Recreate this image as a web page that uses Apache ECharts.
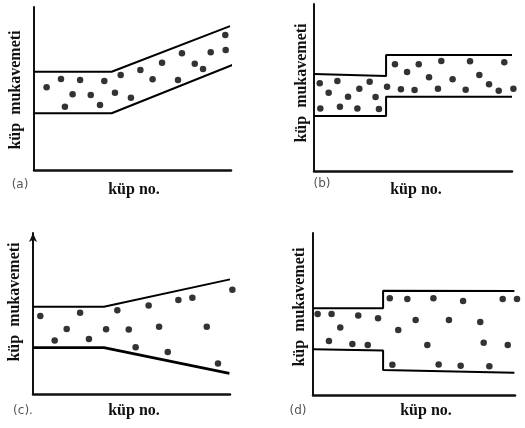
<!DOCTYPE html>
<html>
<head>
<meta charset="utf-8">
<script src="https://cdn.jsdelivr.net/npm/echarts@6/dist/echarts.min.js"></script>
<style>html,body{margin:0;padding:0;background:#fff;}#c{width:525px;height:428px;}</style>
</head>
<body>
<div id="c"></div>
<script>
// Panel labels and axis titles
var panelLabels = ['(a)', '(b)', '(c).', '(d)'];
var yTitle = 'küp  mukavemeti';
var xTitle = 'küp no.';

// (a) band: flat then rising
var aUpper = [[0, 60.3], [39.4, 60.3], [99.5, 88.3]];
var aLower = [[0, 34.8], [39.4, 34.8], [101.5, 64.8]];
var aPoints = [[6.4, 50.7], [13.7, 55.8], [15.7, 38.8], [19.6, 46.4], [23.4, 55.2], [28.8, 46.0], [33.5, 39.9], [35.7, 54.6], [41.1, 47.4], [44.0, 58.3], [49.2, 44.4], [54.0, 61.3], [60.2, 55.6], [65.0, 65.8], [73.1, 55.2], [75.1, 71.6], [81.6, 65.2], [85.8, 62.0], [89.7, 72.2], [97.1, 82.8], [97.3, 73.6]];

// (b) band: step up
var bUpper = [[0, 58.1], [36.4, 56.9], [36.4, 69.5], [100, 69.5]];
var bLower = [[0, 32.9], [36.4, 32.9], [36.4, 44.5], [100, 44.5]];
var bPoints = [[2.9, 52.5], [3.2, 37.5], [7.4, 46.9], [11.8, 53.9], [13.1, 38.5], [17.2, 44.5], [21.9, 37.5], [22.9, 49.3], [28.1, 53.5], [31.1, 44.3], [32.8, 37.1], [36.9, 50.5], [40.9, 63.9], [43.9, 48.9], [47.0, 59.3], [50.8, 48.5], [52.9, 63.9], [58.1, 56.1], [62.6, 49.3], [64.3, 65.9], [70.0, 54.9], [76.6, 48.7], [78.8, 65.7], [83.5, 57.5], [88.4, 51.9], [93.3, 48.1], [96.1, 65.1], [100.7, 49.3]];

// (c) band: widening
var cUpper = [[0, 54.2], [36.0, 54.2], [100, 71.2]];
var cLower = [[0, 28.8], [36.0, 28.8], [99.7, 12.8]];
var cPoints = [[3.7, 48.4], [11.0, 33.3], [17.1, 40.4], [23.9, 50.5], [28.4, 34.2], [37.1, 40.2], [42.8, 52.0], [48.6, 40.0], [52.1, 29.0], [58.7, 54.9], [64.0, 41.8], [68.4, 26.1], [73.8, 58.4], [80.9, 59.8], [88.2, 41.8], [93.9, 19.0], [101.2, 64.8]];

// (d) band: step widening
var dUpper = [[0, 53.5], [34.7, 53.5], [34.7, 64.4], [99.7, 64.2]];
var dLower = [[0, 28.2], [34.7, 27.4], [34.7, 15.4], [99.7, 13.8]];
var dPoints = [[2.3, 50.0], [7.9, 33.3], [9.2, 50.0], [13.5, 41.6], [19.5, 31.5], [22.4, 49.0], [27.1, 30.9], [32.2, 47.3], [38.0, 59.7], [39.3, 18.7], [42.2, 40.1], [46.7, 59.3], [50.8, 46.3], [56.6, 30.9], [59.6, 59.7], [62.2, 18.9], [67.3, 46.3], [73.1, 18.1], [74.3, 58.0], [82.8, 45.1], [84.5, 32.3], [87.3, 17.7], [93.9, 59.3], [96.4, 30.9], [101.0, 59.3]];

var panels = [
  {upper: aUpper, lower: aLower, pts: aPoints, grid: {left: 34, top: 7, width: 197, height: 163}, yT: [16, 90], xT: [134, 190], pl: [20, 185], lw: 2, arrow: false},
  {upper: bUpper, lower: bLower, pts: bPoints, grid: {left: 314, top: 4, width: 198, height: 167}, yT: [302, 83], xT: [416, 190], pl: [322, 184], lw: 2, arrow: false},
  {upper: cUpper, lower: cLower, pts: cPoints, grid: {left: 33, top: 233, width: 197, height: 161}, yT: [15, 302], xT: [134, 411], pl: [23, 411], lw: 2.6, arrow: true},
  {upper: dUpper, lower: dLower, pts: dPoints, grid: {left: 313, top: 233, width: 202, height: 162}, yT: [300, 307], xT: [426, 411], pl: [298, 411], lw: 2, arrow: false}
];

var grids = [], xAxes = [], yAxes = [], series = [], graphics = [];
panels.forEach(function (p, i) {
  grids.push(Object.assign({containLabel: false}, p.grid));
  xAxes.push({type: 'value', gridIndex: i, min: 0, max: 100, axisLine: {show: true, onZero: false, lineStyle: {color: '#111', width: 2.5}}, axisTick: {show: false}, axisLabel: {show: false}, splitLine: {show: false}});
  yAxes.push({type: 'value', gridIndex: i, min: 0, max: 100, axisLine: {show: true, onZero: false, symbol: p.arrow ? ['none', 'arrow'] : 'none', symbolSize: [6, 9], lineStyle: {color: '#111', width: 2}}, axisTick: {show: false}, axisLabel: {show: false}, splitLine: {show: false}});
  series.push({type: 'line', xAxisIndex: i, yAxisIndex: i, data: p.upper, symbol: 'none', lineStyle: {color: '#000', width: 2}, clip: false, silent: true, animation: false});
  series.push({type: 'line', xAxisIndex: i, yAxisIndex: i, data: p.lower, symbol: 'none', lineStyle: {color: '#000', width: p.lw}, clip: false, silent: true, animation: false});
  series.push({type: 'scatter', xAxisIndex: i, yAxisIndex: i, data: p.pts, symbol: 'circle', symbolSize: 6.5, itemStyle: {color: '#000'}, clip: false, animation: false});
  graphics.push({type: 'text', x: p.yT[0], y: p.yT[1], rotation: Math.PI / 2, style: {text: yTitle, font: 'bold 16px "Liberation Serif"', fill: '#111', textAlign: 'center', textVerticalAlign: 'middle'}});
  graphics.push({type: 'text', x: p.xT[0], y: p.xT[1], style: {text: xTitle, font: 'bold 16px "Liberation Serif"', fill: '#111', textAlign: 'center', textVerticalAlign: 'middle'}});
  graphics.push({type: 'text', x: p.pl[0], y: p.pl[1], style: {text: panelLabels[i], font: '12px "DejaVu Sans"', fill: '#555', textAlign: 'center', textVerticalAlign: 'middle'}});
});

var chart = echarts.init(document.getElementById('c'), null, {renderer: 'canvas'});
chart.setOption({
  backgroundColor: '#fff',
  animation: false,
  grid: grids,
  xAxis: xAxes,
  yAxis: yAxes,
  series: series,
  graphic: graphics
});
</script>
</body>
</html>
